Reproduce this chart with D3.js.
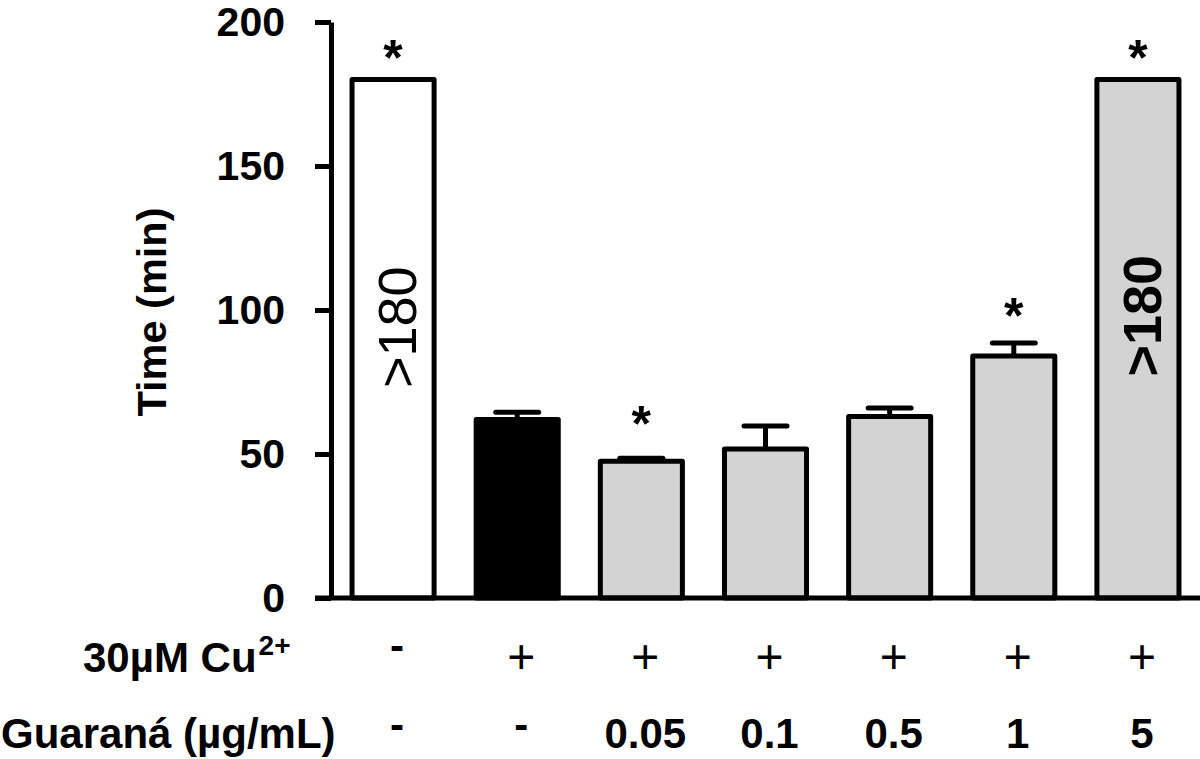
<!DOCTYPE html>
<html>
<head>
<meta charset="utf-8">
<script src="https://cdn.jsdelivr.net/npm/d3@7"></script>
<style>
  html, body { margin: 0; padding: 0; background: #fff; }
  svg { display: block; }
  text { font-family: "Liberation Sans", Arial, Helvetica, sans-serif; fill: #000; }
</style>
</head>
<body>
<svg id="chart" width="1200" height="759"></svg>
<script>
// ---- data ----
const groups = ["ctrl", "cu", "g0.05", "g0.1", "g0.5", "g1", "g5"];
const times = [180, 62, 47.5, 51.7, 63, 84, 180];
const errors = [0, 2.5, 1, 8, 3, 4.5, 0];
const significant = [true, false, true, false, false, true, true];
const barLabels = [">180", "", "", "", "", "", ">180"];
const copperRow = ["-", "+", "+", "+", "+", "+", "+"];
const guaranaRow = ["-", "-", "0.05", "0.1", "0.5", "1", "5"];
const yTicks = [0, 50, 100, 150, 200];

// ---- layout ----
const svg = d3.select("#chart");
const font = '"Liberation Sans", Arial, Helvetica, sans-serif';
const axisX = 331, baseY = 598, topY = 22, rightX = 1200;

const x = d3.scaleBand().domain(groups).range([axisX, rightX])
  .paddingInner(0.339).paddingOuter(0.1695);
const y = d3.scaleLinear().domain([0, 200]).range([baseY, topY]);

const fillFor = i => i === 0 ? "#ffffff" : (i === 1 ? "#000000" : "#d3d3d3");
const cx = i => x(groups[i]) + x.bandwidth() / 2;

// error bars (drawn under bars)
const capHalf = 21.5;
const eg = svg.append("g");
times.forEach((v, i) => {
  if (!errors[i]) return;
  eg.append("line").attr("x1", cx(i)).attr("x2", cx(i))
    .attr("y1", y(v)).attr("y2", y(v + errors[i]))
    .attr("stroke", "#000").attr("stroke-width", 5);
  eg.append("line").attr("x1", cx(i) - capHalf).attr("x2", cx(i) + capHalf)
    .attr("y1", y(v + errors[i])).attr("y2", y(v + errors[i]))
    .attr("stroke", "#000").attr("stroke-width", 5).attr("stroke-linecap", "round");
});

// bars
svg.append("g").selectAll("rect").data(times).join("rect")
  .attr("x", (d, i) => x(groups[i]))
  .attr("y", d => y(d))
  .attr("width", x.bandwidth())
  .attr("height", d => y(0) - y(d))
  .attr("fill", (d, i) => fillFor(i))
  .attr("stroke", "#000").attr("stroke-width", 5)
  .attr("stroke-linejoin", "round");

// labels inside tall bars
barLabels.forEach((t, i) => {
  if (!t) return;
  const midY = i === 0 ? y(94) : y(98);
  svg.append("text")
    .attr("transform", `translate(${cx(i) + 23},${midY}) rotate(-90)`)
    .attr("text-anchor", "middle")
    .attr("font-size", 54)
    .attr("font-weight", i === 0 ? "normal" : "bold")
    .text(t);
});

// significance asterisks
significant.forEach((s, i) => {
  if (!s) return;
  const top = y(times[i] + errors[i]);
  const gap = errors[i] ? 45 - (i === 5 ? 7 : 0) : 33;
  svg.append("text")
    .attr("x", cx(i)).attr("y", top - gap + 28)
    .attr("text-anchor", "middle")
    .attr("font-size", 50).attr("font-weight", "bold")
    .text("*");
});

// y axis
const yAxis = svg.append("g").attr("transform", `translate(${axisX},0)`)
  .call(d3.axisLeft(y).tickValues(yTicks).tickSize(16).tickSizeOuter(0).tickPadding(30));
yAxis.select(".domain").attr("stroke", "#000").attr("stroke-width", 5);
yAxis.selectAll(".tick line").attr("stroke", "#000").attr("stroke-width", 5);
yAxis.selectAll(".tick text")
  .attr("font-family", font).attr("font-size", 41).attr("font-weight", "bold")
  .attr("fill", "#000");

// x baseline
const xAxis = svg.append("g").attr("transform", `translate(0,${baseY})`)
  .call(d3.axisBottom(x).tickSize(0).tickFormat(""));
xAxis.select(".domain").attr("stroke", "#000").attr("stroke-width", 5)
  .attr("d", `M${axisX - 16},0H${rightX}`);

// y title
svg.append("text")
  .attr("transform", `translate(166,312) rotate(-90)`)
  .attr("text-anchor", "middle")
  .attr("font-size", 41.5).attr("font-weight", "bold")
  .text("Time (min)");

// bottom condition rows
const row1 = svg.append("text").attr("x", 83).attr("y", 672)
  .attr("font-size", 42).attr("font-weight", "bold");
row1.append("tspan").text("30µM Cu");
row1.append("tspan").attr("font-size", 28).attr("dy", -17).attr("dx", 2).text("2+");

svg.append("text").attr("x", 1).attr("y", 748)
  .attr("font-size", 42).attr("font-weight", "bold")
  .text("Guaraná (µg/mL)");

copperRow.forEach((t, i) => {
  const isDash = t === "-";
  svg.append("text")
    .attr("x", cx(i) + 4).attr("y", isDash ? 660 : 673)
    .attr("text-anchor", "middle")
    .attr("font-size", isDash ? 42 : 48)
    .attr("font-weight", isDash ? "bold" : "normal")
    .text(t);
});
guaranaRow.forEach((t, i) => {
  const isDash = t === "-";
  svg.append("text")
    .attr("x", cx(i) + 4).attr("y", isDash ? 739 : 748)
    .attr("text-anchor", "middle")
    .attr("font-size", 42).attr("font-weight", "bold")
    .text(t);
});
</script>
</body>
</html>
